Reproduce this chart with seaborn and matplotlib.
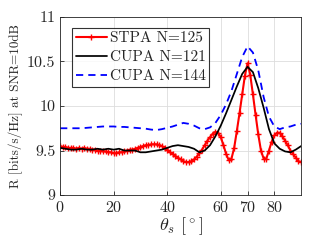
import numpy as np
import pandas as pd
import matplotlib
matplotlib.use("Agg")
import matplotlib.pyplot as plt
import seaborn as sns

# STPA N=125, sampled every degree 0..90
theta_stpa = list(range(0, 91))
r_stpa = [
    9.55, 9.54, 9.54, 9.53, 9.53, 9.53, 9.52, 9.53, 9.52, 9.53,
    9.52, 9.52, 9.51, 9.51, 9.50, 9.50, 9.49, 9.49, 9.48, 9.48,
    9.47, 9.47, 9.48, 9.48, 9.49, 9.50, 9.51, 9.51, 9.52, 9.53,
    9.54, 9.55, 9.56, 9.56, 9.57, 9.57, 9.57, 9.56, 9.55, 9.53,
    9.51, 9.48, 9.46, 9.44, 9.42, 9.40, 9.38, 9.37, 9.37, 9.38,
    9.40, 9.43, 9.47, 9.51, 9.56, 9.61, 9.65, 9.69, 9.71, 9.70,
    9.65, 9.56, 9.46, 9.39, 9.41, 9.53, 9.72, 9.92, 10.13, 10.34,
    10.48, 10.35, 10.13, 9.90, 9.68, 9.50, 9.41, 9.41, 9.50, 9.60,
    9.67, 9.70, 9.70, 9.66, 9.61, 9.56, 9.50, 9.46, 9.42, 9.38,
    9.37,
]

# CUPA curves, sampled every 2 degrees
theta_cupa = list(range(0, 91, 2))
r_cupa121 = [
    9.53, 9.52, 9.51, 9.51, 9.52, 9.51, 9.51, 9.52, 9.51, 9.52,
    9.51, 9.52, 9.50, 9.50, 9.50, 9.48, 9.48, 9.49, 9.50, 9.51,
    9.53, 9.55, 9.56, 9.55, 9.54, 9.52, 9.48, 9.50, 9.56, 9.66,
    9.78, 9.92, 10.07, 10.22, 10.36, 10.44, 10.38, 10.20, 9.98, 9.74,
    9.58, 9.52, 9.49, 9.48, 9.51, 9.55,
]
r_cupa144 = [
    9.75, 9.75, 9.75, 9.75, 9.75, 9.755, 9.76, 9.765, 9.77, 9.77,
    9.77, 9.765, 9.765, 9.76, 9.755, 9.75, 9.745, 9.735, 9.73, 9.74,
    9.755, 9.77, 9.79, 9.81, 9.80, 9.78, 9.75, 9.74, 9.76, 9.81,
    9.90, 10.02, 10.17, 10.36, 10.55, 10.67, 10.60, 10.40, 10.10, 9.88,
    9.77, 9.74, 9.76, 9.77, 9.79, 9.80,
]

df_stpa = pd.DataFrame({"theta": theta_stpa, "R": r_stpa})
df_121 = pd.DataFrame({"theta": theta_cupa, "R": r_cupa121})
df_144 = pd.DataFrame({"theta": theta_cupa, "R": r_cupa144})

sns.set_style("ticks")
plt.rcParams["font.family"] = "serif"
plt.rcParams["font.serif"] = ["cmr10", "DejaVu Serif"]
plt.rcParams["mathtext.fontset"] = "cm"
plt.rcParams["axes.formatter.use_mathtext"] = True

fig = plt.figure(figsize=(3.32, 2.42), dpi=100)
ax = fig.add_axes([0.181, 0.194, 0.726, 0.736])

# seaborn draws marker edges white by default, so set them red for '+'
sns.lineplot(data=df_stpa, x="theta", y="R", ax=ax, color="red", lw=1.5,
             linestyle="-", marker="+", markersize=5, markeredgewidth=1.0,
             markeredgecolor="red", label="STPA N=125")
sns.lineplot(data=df_121, x="theta", y="R", ax=ax, color="black", lw=1.25,
             linestyle="-", label="CUPA N=121")
sns.lineplot(data=df_144, x="theta", y="R", ax=ax, color="blue", lw=1.3,
             linestyle=(0, (4, 2.8)), label="CUPA N=144")

ax.set_xlim(0, 90)
ax.set_ylim(9, 11)
ax.set_xticks([0, 20, 40, 60, 70, 80])
ax.set_yticks([9, 9.5, 10, 10.5, 11])
ax.set_yticklabels(["9", "9.5", "10", "10.5", "11"])
ax.grid(True, color="#dddddd", lw=0.6)
ax.tick_params(direction="in", labelsize=11.5, length=3, width=0.6)
for s in ax.spines.values():
    s.set_linewidth(0.6)
    s.set_color("#262626")

ax.set_xlabel(r"$\theta_s$ [$^\circ$]", fontsize=13, labelpad=0)
ax.set_ylabel("R [bits/s/Hz] at SNR=10dB", fontsize=9.5, labelpad=3)

leg = ax.legend(loc="upper left", bbox_to_anchor=(0.05, 0.94), fontsize=11,
                frameon=True, fancybox=False, edgecolor="black",
                borderpad=0.25, labelspacing=0.35, handlelength=2.0,
                handletextpad=0.2, borderaxespad=0)
leg.get_frame().set_linewidth(0.8)

fig.savefig("out.png", dpi=100)
